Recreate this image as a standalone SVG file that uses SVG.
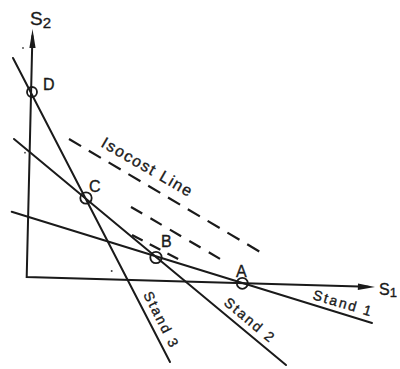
<svg xmlns="http://www.w3.org/2000/svg" width="400" height="369" viewBox="0 0 400 369">
<style>
.ln{stroke:#1a1a1a;stroke-width:2;fill:none;stroke-linecap:round}
.ds{stroke:#1a1a1a;stroke-width:2.2;fill:none}
.pt{stroke:#1a1a1a;stroke-width:1.8;fill:none}
.ar{fill:#1a1a1a;stroke:none}
.lb{font-family:"Liberation Sans",Arial,sans-serif;fill:#1a1a1a;stroke:#1a1a1a;stroke-width:0.35}
.sl{font-family:"Liberation Sans",Arial,sans-serif;fill:#1a1a1a;stroke:#1a1a1a;stroke-width:0.35;font-size:14px;letter-spacing:2px}
</style>
<rect width="400" height="369" fill="#fff"/>
<g id="connectors">
  <g id="axes">
    <polyline class="ln" points="32.4,36 26.7,277 368,286.8"/>
    <polygon class="ar" points="32.5,29 29.4,48 35.6,48"/>
    <polygon class="ar" points="375,287 358,283.6 357.8,290"/>
  </g>
  <line id="stand1" class="ln" x1="11.7" y1="211.7" x2="372" y2="323"/>
  <line id="stand2" class="ln" x1="14" y1="139" x2="286" y2="365"/>
  <line id="stand3" class="ln" x1="13" y1="58" x2="170" y2="362"/>
  <g id="isocost">
    <line class="ds" x1="69" y1="139" x2="267" y2="256" stroke-dasharray="14 9"/>
    <line class="ds" x1="131" y1="207" x2="222" y2="260" stroke-dasharray="13 9.5"/>
    <line class="ds" x1="132" y1="235" x2="180" y2="260" stroke-dasharray="12 8"/>
  </g>
</g>
<g id="node-D"><circle class="pt" cx="32" cy="92" r="5"/><text class="lb" x="43" y="90" font-size="16">D</text></g>
<g id="node-C"><circle class="pt" cx="86" cy="198" r="5.7"/><text class="lb" x="89" y="192" font-size="16">C</text></g>
<g id="node-B"><circle class="pt" cx="156" cy="257.5" r="5.7"/><text class="lb" x="161" y="247" font-size="16">B</text></g>
<g id="node-A"><circle class="pt" cx="242.3" cy="283.3" r="5.5"/><text class="lb" x="236" y="277" font-size="16">A</text></g>
<g id="labels">
  <text class="lb" x="30" y="25" font-size="19">S<tspan font-size="15" dy="3">2</tspan></text>
  <text class="lb" x="379" y="295" font-size="16">S<tspan font-size="13" dy="2">1</tspan></text>
  <text class="lb" transform="translate(100,146) rotate(30)" font-size="16" letter-spacing="1.5">Isocost Line</text>
  <text class="sl" transform="translate(312,299) rotate(16.5)">Stand 1</text>
  <text class="sl" transform="translate(223,304) rotate(40)">Stand 2</text>
  <text class="sl" transform="translate(143,294.5) rotate(63)">Stand 3</text>
</g>
<g id="specks" fill="#444">
  <circle cx="23" cy="48" r="0.9"/>
  <circle cx="25" cy="152.7" r="0.9"/>
  <circle cx="111.7" cy="271" r="1"/>
</g>
</svg>
